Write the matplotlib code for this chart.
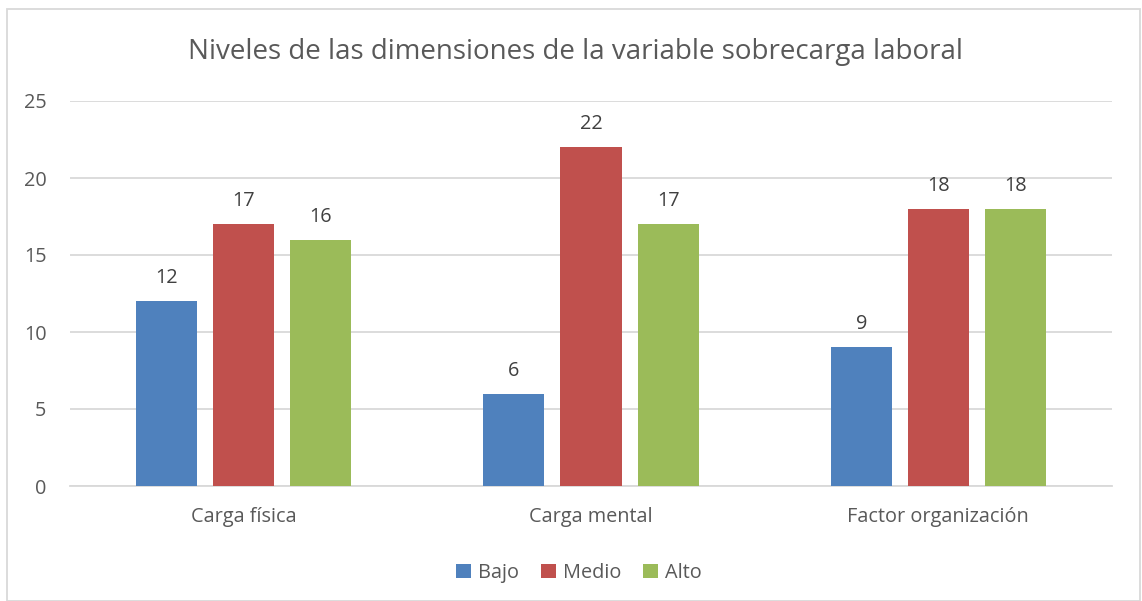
import matplotlib
matplotlib.use("Agg")
import matplotlib.pyplot as plt
from matplotlib.patches import Rectangle
import numpy as np

categories = ["Carga física", "Carga mental", "Factor organización"]
series_names = ["Bajo", "Medio", "Alto"]
bajo = [12, 6, 9]
medio = [17, 22, 18]
alto = [16, 17, 18]
colors = ["#4F81BD", "#C0504D", "#9BBB59"]
title = "Niveles de las dimensiones de la variable sobrecarga laboral"

plt.rcParams['font.family'] = ['Open Sans', 'DejaVu Sans']
txt = "#595959"
fs = 14.3

fig = plt.figure(figsize=(11.42, 6.01), dpi=100)
ax = fig.add_axes([70/1142, 1-486/601, (1112-70)/1142, (486-101)/601])

x = np.arange(len(categories))
step = 0.222
width = 0.176
for i, (vals, name, c) in enumerate(zip([bajo, medio, alto], series_names, colors)):
    bars = ax.bar(x + (i-1)*step, vals, width, color=c, label=name, zorder=3)
    for b, v in zip(bars, vals):
        ax.annotate(str(v), (b.get_x()+b.get_width()/2, v), xytext=(0, 16.5),
                    textcoords="offset points", ha="center", va="center",
                    fontsize=fs, color="#404040")

ax.set_xlim(-0.5, 2.5)
ax.set_ylim(0, 25)
ax.set_yticks(range(0, 26, 5))
ax.set_xticks(x)
ax.set_xticklabels(categories)
ax.yaxis.grid(True, color="#D9D9D9", linewidth=1.3, zorder=0)
for s in ["top", "right", "left"]:
    ax.spines[s].set_visible(False)
ax.spines["bottom"].set_color("#D9D9D9")
ax.spines["bottom"].set_linewidth(1.3)
ax.tick_params(axis="both", length=0, labelsize=fs, colors=txt)
ax.tick_params(axis="x", pad=15)
ax.tick_params(axis="y", pad=17)

fig.text(575/1142, 1-52/601, title, ha="center", va="center", fontsize=20, color=txt)

handles, labels = ax.get_legend_handles_labels()
fig.legend(handles, labels, loc="center", bbox_to_anchor=(579/1142, 1-573/601), ncol=3,
           frameon=False, fontsize=fs, labelcolor=txt, handlelength=0.75, handleheight=0.75,
           handletextpad=0.35, columnspacing=1.1)

fig.patches.append(Rectangle((7/1142, 0), (1140-7)/1142, 1-9/601, transform=fig.transFigure,
                             fill=False, edgecolor="#D9D9D9", linewidth=1.3))

fig.savefig("out.png", dpi=100)
